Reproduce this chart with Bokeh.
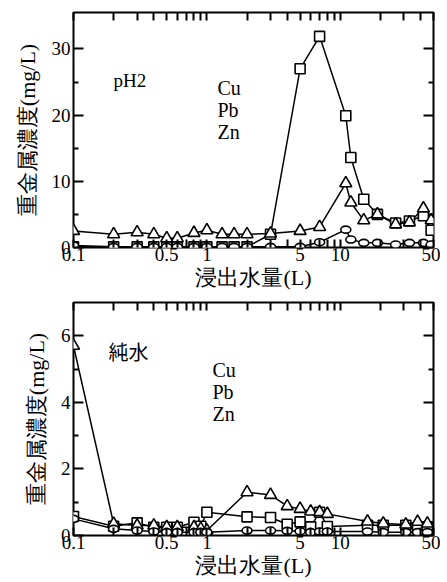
import math
from bokeh.plotting import figure
from bokeh.models import FixedTicker, LogAxis, LinearAxis, Label, Range1d
from bokeh.layouts import column
from bokeh.embed import file_html
from bokeh.resources import INLINE

# ---------------- data ----------------
# pH2 leaching
x_ph2 = [0.1, 0.2, 0.3, 0.4, 0.5, 0.6, 0.8, 1.0, 1.3, 1.6, 2.0, 3.0, 5.0, 7.0, 11, 12, 15, 19, 26, 33, 42, 48]
cu_ph2 = [0.1, 0.1, 0.1, 0.1, 0.1, 0.1, 0.1, 0.1, 0.1, 0.1, 0.1, 2.0, 27.0, 31.9, 19.9, 13.6, 7.3, 5.0, 3.7, 4.0, 4.8, 2.6]
pb_ph2 = [2.5, 2.0, 2.3, 2.0, 1.4, 1.4, 2.2, 2.6, 2.0, 2.0, 2.0, 2.1, 2.5, 3.1, 9.7, 6.8, 4.1, 5.0, 3.5, 3.8, 5.9, 4.1]
zn_ph2 = [0.3, 0.1, 0.1, 0.1, 0.1, 0.1, 0.1, 0.1, 0.1, 0.1, 0.1, 0.1, 0.1, 0.8, 2.7, 1.2, 0.7, 0.7, 0.45, 0.7, 0.7, 0.45]

# pure water leaching
x_w = [0.1, 0.2, 0.3, 0.4, 0.5, 0.6, 0.8, 0.9, 1.0, 2.0, 3.0, 4.0, 5.0, 6.0, 7.0, 8.0, 16, 21, 31, 38, 45]
cu_w = [0.57, 0.28, 0.38, 0.25, 0.25, 0.25, 0.4, 0.28, 0.7, 0.56, 0.54, 0.34, 0.41, 0.26, 0.7, 0.27, 0.31, 0.31, 0.31, 0.2, 0.26]
pb_w = [5.7, 0.35, 0.3, 0.3, 0.25, 0.25, 0.25, 0.2, 0.15, 1.3, 1.22, 0.88, 0.8, 0.72, 0.7, 0.65, 0.42, 0.36, 0.33, 0.41, 0.36]
zn_w = [0.5, 0.2, 0.15, 0.12, 0.1, 0.1, 0.1, 0.1, 0.1, 0.15, 0.15, 0.14, 0.13, 0.1, 0.12, 0.12, 0.12, 0.1, 0.1, 0.1, 0.1]

x_major = [0.1, 0.5, 1, 5, 10, 50]
x_minor = [0.2, 0.3, 0.4, 0.6, 0.7, 0.8, 0.9, 2, 3, 4, 6, 7, 8, 9, 20, 30, 40]
species = ["Cu", "Pb", "Zn"]
x_title = "浸出水量(L)"
y_title = "重金属濃度(mg/L)"

SERIF = "Liberation Serif"
CJK = "Noto Sans CJK JP"


def style_x(ax, labels=True):
    ax.ticker = FixedTicker(ticks=x_major, minor_ticks=x_minor)
    ax.major_tick_in = 8
    ax.major_tick_out = 0
    ax.minor_tick_in = 8
    ax.minor_tick_out = 0
    ax.major_tick_line_width = 2
    ax.minor_tick_line_width = 2
    ax.major_tick_line_color = "black"
    ax.minor_tick_line_color = "black"
    ax.axis_line_color = None
    ax.major_label_text_font = SERIF
    if labels:
        ax.major_label_text_color = "black"
        ax.major_label_text_font_size = "19px"
        ax.major_label_standoff = 0
    else:
        ax.major_label_text_color = None
        ax.major_label_text_font_size = "1px"
        ax.major_label_standoff = 0


def style_y(ax, major, minor, labels=True):
    ax.ticker = FixedTicker(ticks=major, minor_ticks=minor)
    ax.major_tick_in = 10
    ax.major_tick_out = 0
    ax.minor_tick_in = 5
    ax.minor_tick_out = 0
    ax.major_tick_line_width = 2
    ax.minor_tick_line_width = 2
    ax.major_tick_line_color = "black"
    ax.minor_tick_line_color = "black"
    ax.axis_line_color = None
    ax.major_label_text_font = SERIF
    if labels:
        ax.major_label_text_color = "black"
        ax.major_label_text_font_size = "19px"
        ax.major_label_standoff = 3
    else:
        ax.major_label_text_color = None
        ax.major_label_text_font_size = "1px"
        ax.major_label_standoff = 0


def panel(x, cu, pb, zn, ymax, ymaj, ymin, height, top, bottom, tag, tag_cjk, tag_pos, legend_pos):
    p = figure(width=440, height=height, x_axis_type="log",
               x_range=Range1d(0.1, 50), y_range=Range1d(0, ymax),
               output_backend="svg", toolbar_location=None,
               min_border_left=73, min_border_right=7,
               min_border_top=top, min_border_bottom=bottom)
    p.background_fill_color = "white"
    p.border_fill_color = "white"
    p.grid.visible = False
    p.outline_line_color = "black"
    p.outline_line_width = 2
    p.outline_line_alpha = 1.0
    xa = p.below[0]
    ya = p.left[0]
    style_x(xa)
    style_y(ya, ymaj, ymin)
    top_ax = LogAxis()
    style_x(top_ax, labels=False)
    p.add_layout(top_ax, "above")
    right_ax = LinearAxis()
    style_y(right_ax, ymaj, ymin, labels=False)
    p.add_layout(right_ax, "right")

    xa.axis_label = x_title
    xa.axis_label_text_font = SERIF
    xa.axis_label_text_font_size = "22px"
    xa.axis_label_text_font_style = "normal"
    xa.axis_label_text_color = "black"
    xa.axis_label_standoff = 1
    ya.axis_label = y_title
    ya.axis_label_text_font = SERIF
    ya.axis_label_text_font_size = "22px"
    ya.axis_label_text_font_style = "normal"
    ya.axis_label_text_color = "black"
    ya.axis_label_standoff = 9

    for ys in (cu, pb, zn):
        p.line(x, ys, line_color="black", line_width=1.5)
    p.scatter(x, cu, marker="square", size=10, fill_color="white", line_color="black", line_width=1.6)
    p.scatter(x, pb, marker="triangle", size=12, fill_color="white", line_color="black", line_width=1.6)
    p.ellipse(x, zn, width=10, height=7, width_units="screen", height_units="screen",
              fill_color="white", line_color="black", line_width=1.6)

    # panel tag
    if tag_cjk:
        p.add_layout(Label(x=tag_pos[0], y=tag_pos[1], x_units="screen", y_units="screen",
                           text=tag, text_font=CJK, text_font_size="20px",
                           text_baseline="middle", text_color="black"))
    else:
        p.add_layout(Label(x=tag_pos[0], y=tag_pos[1], x_units="screen", y_units="screen",
                           text=tag, text_font=SERIF, text_font_size="19px",
                           text_baseline="alphabetic", text_color="black"))
    for i, s in enumerate(species):
        p.add_layout(Label(x=legend_pos[0], y=legend_pos[1] - 22 * i, x_units="screen", y_units="screen",
                           text=s, text_font=SERIF, text_font_size="20px",
                           text_baseline="alphabetic", text_color="black"))
    return p


p1 = panel(x_ph2, cu_ph2, pb_ph2, zn_ph2, 35.5, [0, 10, 20, 30], [5, 15, 25],
           294, 12, 47, "pH2", False, (40, 167), (144, 160))
p2 = panel(x_w, cu_w, pb_w, zn_w, 7.0, [0, 2, 4, 6], [1, 3, 5],
           286, 8, 43, "純水", True, (35, 184), (139, 166))

layout = column(p1, p2, spacing=0)
open("out.html", "w").write(file_html(layout, INLINE))
